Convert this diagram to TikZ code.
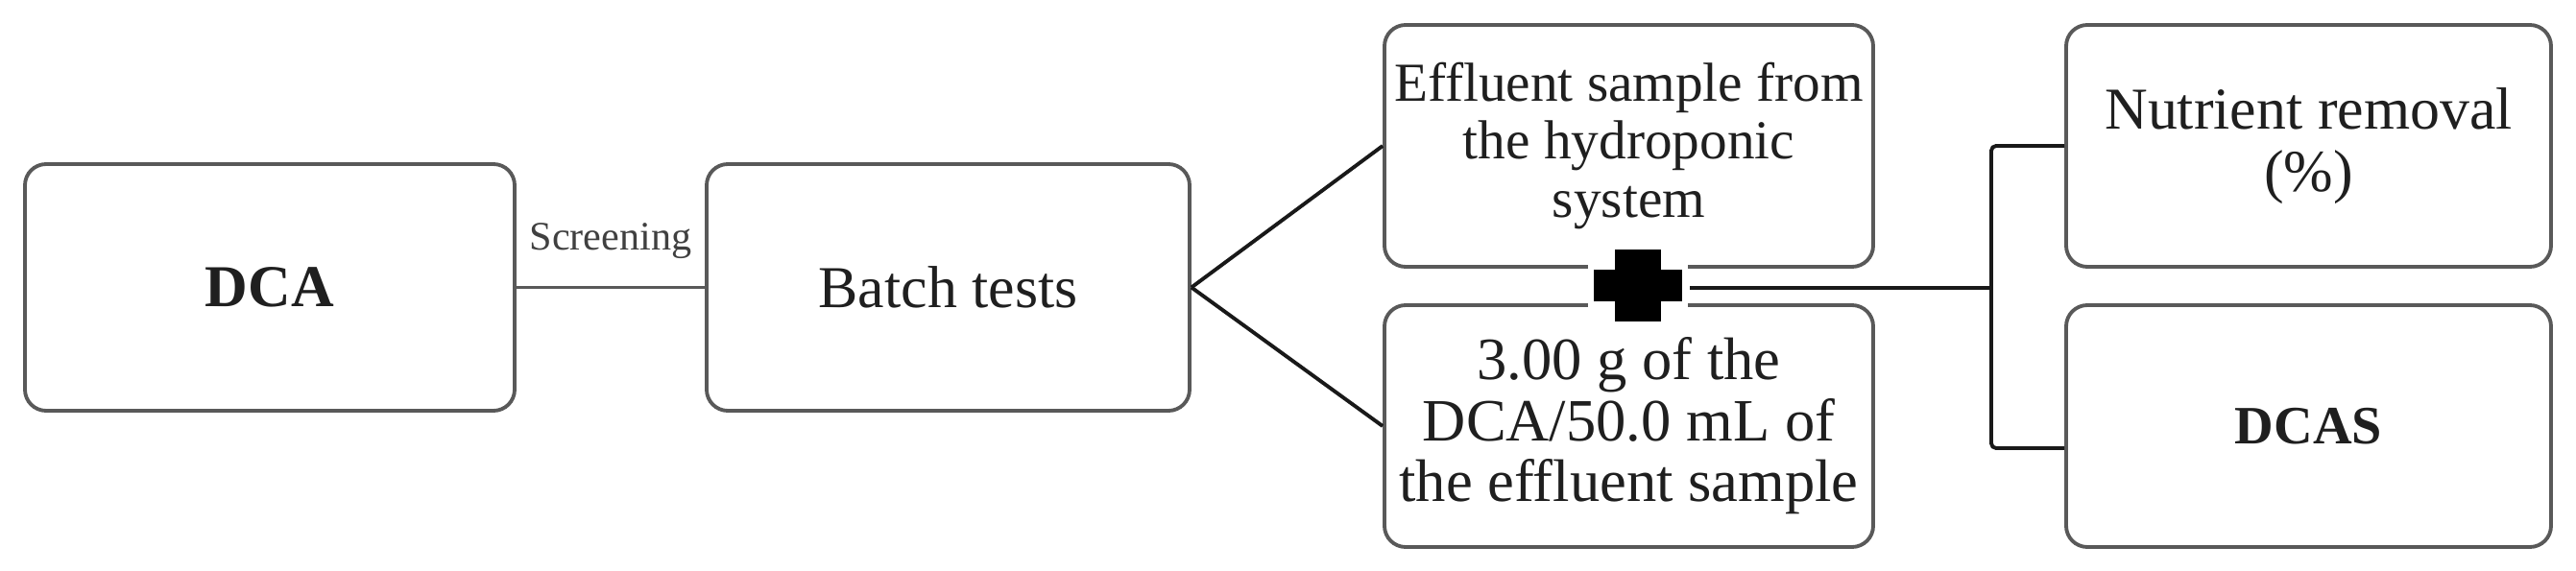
\documentclass[tikz,border=0pt]{standalone}
\usepackage{fontspec}
\setmainfont{Liberation Serif}
\usetikzlibrary{calc}
\begin{document}
\begin{tikzpicture}[x=1cm,y=1cm,
  box/.style={draw=black!65, line width=1.1pt, rounded corners=0.22cm, fill=white,
    inner sep=0pt, align=center, text=black!88, font=\fontsize{17.6}{18.6}\selectfont},
  conn/.style={draw=black!90, line width=1.1pt},
  lbl/.style={font=\fontsize{12}{13}\selectfont, text=black!75, inner sep=0pt}
]
\useasboundingbox (0,0) rectangle (26.83,5.94);
% nodes
\node[box, minimum width=5.10cm, minimum height=2.57cm] (dca) at (2.81,2.945) {\textbf{DCA}};
\node[box, minimum width=5.03cm, minimum height=2.57cm] (batch) at (9.875,2.945) {Batch tests};
\node[box, minimum width=5.09cm, minimum height=2.52cm, font=\fontsize{16.3}{17.3}\selectfont] (eff) at (16.965,4.42) {Effluent sample from\\the hydroponic\\system};
\node[box, minimum width=5.09cm, minimum height=2.52cm, font=\fontsize{17.8}{18.1}\selectfont] (dose) at (16.965,1.50) {3.00 g of the\\DCA/50.0 mL of\\the effluent sample};
\node[box, minimum width=5.05cm, minimum height=2.52cm] (nut) at (24.045,4.42) {Nutrient removal\\(\%)};
\node[box, minimum width=5.05cm, minimum height=2.52cm, font=\fontsize{16}{17}\selectfont] (dcas) at (24.045,1.50) {\textbf{DCAS}};
% plus sign
\coordinate (pc) at (17.06,2.965);
\fill[black, draw=white, line width=1.6pt]
  ($(pc)+(-0.27,0.405)$) -- ($(pc)+(0.27,0.405)$) -- ($(pc)+(0.27,0.195)$) -- ($(pc)+(0.49,0.195)$)
  -- ($(pc)+(0.49,-0.195)$) -- ($(pc)+(0.27,-0.195)$) -- ($(pc)+(0.27,-0.405)$) -- ($(pc)+(-0.27,-0.405)$)
  -- ($(pc)+(-0.27,-0.195)$) -- ($(pc)+(-0.49,-0.195)$) -- ($(pc)+(-0.49,0.195)$) -- ($(pc)+(-0.27,0.195)$) -- cycle;
\coordinate (plusr) at (17.60,2.94);
\coordinate (fork) at (20.74,2.94);
\coordinate (forkt) at (20.74,4.42);
\coordinate (forkb) at (20.74,1.27);
% connectors
\draw[conn, draw=black!65] (dca.east) -- (batch.west) node[lbl, midway, above=0.28cm] {Screening};
\draw[conn] (batch.east) -- (eff.west);
\draw[conn] (batch.east) -- (dose.west);
\draw[conn] (plusr) -- (fork);
\draw[conn, rounded corners=0.05cm] (nut.west) -- (forkt) -- (forkb) -- (forkb -| dcas.west);
\end{tikzpicture}
\end{document}
